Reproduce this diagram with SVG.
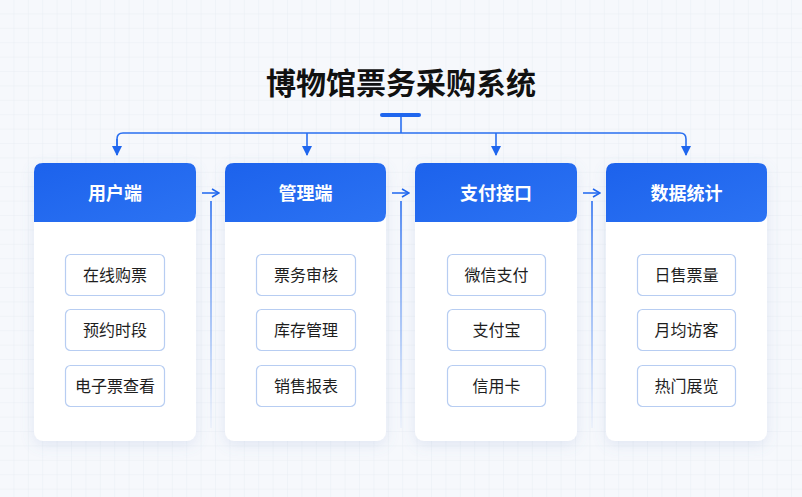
<svg xmlns="http://www.w3.org/2000/svg" width="802" height="497" viewBox="0 0 802 497">
<defs>
<pattern id="grid" width="14.4" height="14.4" patternUnits="userSpaceOnUse">
<path d="M14.4 0V14.4H0" fill="none" stroke="#e9edf4" stroke-width="1"/>
</pattern>
<linearGradient id="hdr" x1="0" y1="0" x2="1" y2="1">
<stop offset="0" stop-color="#1c62ec"/>
<stop offset="1" stop-color="#2c73f3"/>
</linearGradient>
<linearGradient id="vfade" gradientUnits="userSpaceOnUse" x1="0" y1="201" x2="0" y2="430">
<stop offset="0" stop-color="#2a6ff0" stop-opacity="1"/>
<stop offset="0.6" stop-color="#6e9ef3" stop-opacity="0.6"/>
<stop offset="1" stop-color="#9dbdf6" stop-opacity="0.12"/>
</linearGradient>
<filter id="sh" x="-20%" y="-20%" width="140%" height="140%">
<feDropShadow dx="0" dy="4" stdDeviation="7" flood-color="#6b86c0" flood-opacity="0.16"/>
</filter>
<marker id="ah" viewBox="0 0 10 10" refX="9" refY="5" markerWidth="10" markerHeight="10" markerUnits="userSpaceOnUse" orient="auto">
<path d="M0 0L10 5L0 10z" fill="#1f66ee"/>
</marker>
<marker id="oa" viewBox="0 0 10 10" refX="9" refY="5" markerWidth="10" markerHeight="10" markerUnits="userSpaceOnUse" orient="auto">
<path d="M2 1L9 5L2 9" fill="none" stroke="#1f66ee" stroke-width="1.6"/>
</marker>
</defs>
<style>
.title{font-family:"Noto Sans CJK SC","Noto Sans",sans-serif;font-size:30px;font-weight:700;fill:#111;}
.card{fill:#fff;}
.hd{fill:url(#hdr);}
.ht{font-family:"Noto Sans CJK SC","Noto Sans",sans-serif;font-size:18px;font-weight:700;fill:#fff;text-anchor:middle;}
.it{fill:#fff;stroke:#b7cdf2;stroke-width:1.2;}
.tt{font-family:"Noto Sans CJK SC","Noto Sans",sans-serif;font-size:16px;fill:#1e1e1e;text-anchor:middle;}
.ln{fill:none;stroke:#2a6ff0;stroke-width:1.6;}
.fl{fill:none;stroke:url(#vfade);stroke-width:1.6;}
</style>
<rect width="802" height="497" fill="#f6f8fc"/>
<rect width="802" height="497" fill="url(#grid)"/>
<text class="title" x="401" y="94" text-anchor="middle">博物馆票务采购系统</text>

<g id="connectors">
<rect x="380" y="113" width="41" height="4" rx="2" fill="#1f66ee"/>
<path class="ln" d="M401 117V133"/>
<path class="ln" d="M117 155V139Q117 133 123 133H680Q686 133 686 139V155" marker-end="url(#ah)"/>
<path class="ln" d="M117 139V155" marker-end="url(#ah)"/>
<path class="ln" d="M307 133V155" marker-end="url(#ah)"/>
<path class="ln" d="M496 133V155" marker-end="url(#ah)"/>
<path class="ln" d="M202 193H219" marker-end="url(#oa)"/>
<path class="fl" d="M211 201V428"/>
<path class="ln" d="M392 193H409" marker-end="url(#oa)"/>
<path class="fl" d="M401 201V428"/>
<path class="ln" d="M583 193H600" marker-end="url(#oa)"/>
<path class="fl" d="M592 201V428"/>
</g>

<g id="card-user">
<rect class="card" x="34" y="163" width="162" height="278" rx="9" filter="url(#sh)"/>
<path class="hd" d="M34 222V172Q34 163 43 163H187Q196 163 196 172V213Q196 222 187 222Z"/>
<text class="ht" x="115" y="200">用户端</text>
<rect class="it" x="65.5" y="254.5" width="99" height="41" rx="5"/>
<text class="tt" x="115" y="281">在线购票</text>
<rect class="it" x="65.5" y="309.5" width="99" height="41" rx="5"/>
<text class="tt" x="115" y="336">预约时段</text>
<rect class="it" x="65.5" y="365.5" width="99" height="41" rx="5"/>
<text class="tt" x="115" y="392">电子票查看</text>
</g>

<g id="card-admin">
<rect class="card" x="225" y="163" width="161" height="278" rx="9" filter="url(#sh)"/>
<path class="hd" d="M225 222V172Q225 163 234 163H377Q386 163 386 172V213Q386 222 377 222Z"/>
<text class="ht" x="305.5" y="200">管理端</text>
<rect class="it" x="256.5" y="254.5" width="99" height="41" rx="5"/>
<text class="tt" x="306" y="281">票务审核</text>
<rect class="it" x="256.5" y="309.5" width="99" height="41" rx="5"/>
<text class="tt" x="306" y="336">库存管理</text>
<rect class="it" x="256.5" y="365.5" width="99" height="41" rx="5"/>
<text class="tt" x="306" y="392">销售报表</text>
</g>

<g id="card-pay">
<rect class="card" x="415" y="163" width="162" height="278" rx="9" filter="url(#sh)"/>
<path class="hd" d="M415 222V172Q415 163 424 163H568Q577 163 577 172V213Q577 222 568 222Z"/>
<text class="ht" x="496" y="200">支付接口</text>
<rect class="it" x="447.5" y="254.5" width="98" height="41" rx="5"/>
<text class="tt" x="496.5" y="281">微信支付</text>
<rect class="it" x="447.5" y="309.5" width="98" height="41" rx="5"/>
<text class="tt" x="496.5" y="336">支付宝</text>
<rect class="it" x="447.5" y="365.5" width="98" height="41" rx="5"/>
<text class="tt" x="496.5" y="392">信用卡</text>
</g>

<g id="card-stats">
<rect class="card" x="606" y="163" width="161" height="278" rx="9" filter="url(#sh)"/>
<path class="hd" d="M606 222V172Q606 163 615 163H758Q767 163 767 172V213Q767 222 758 222Z"/>
<text class="ht" x="686.5" y="200">数据统计</text>
<rect class="it" x="637.5" y="254.5" width="98" height="41" rx="5"/>
<text class="tt" x="686.5" y="281">日售票量</text>
<rect class="it" x="637.5" y="309.5" width="98" height="41" rx="5"/>
<text class="tt" x="686.5" y="336">月均访客</text>
<rect class="it" x="637.5" y="365.5" width="98" height="41" rx="5"/>
<text class="tt" x="686.5" y="392">热门展览</text>
</g>
</svg>
